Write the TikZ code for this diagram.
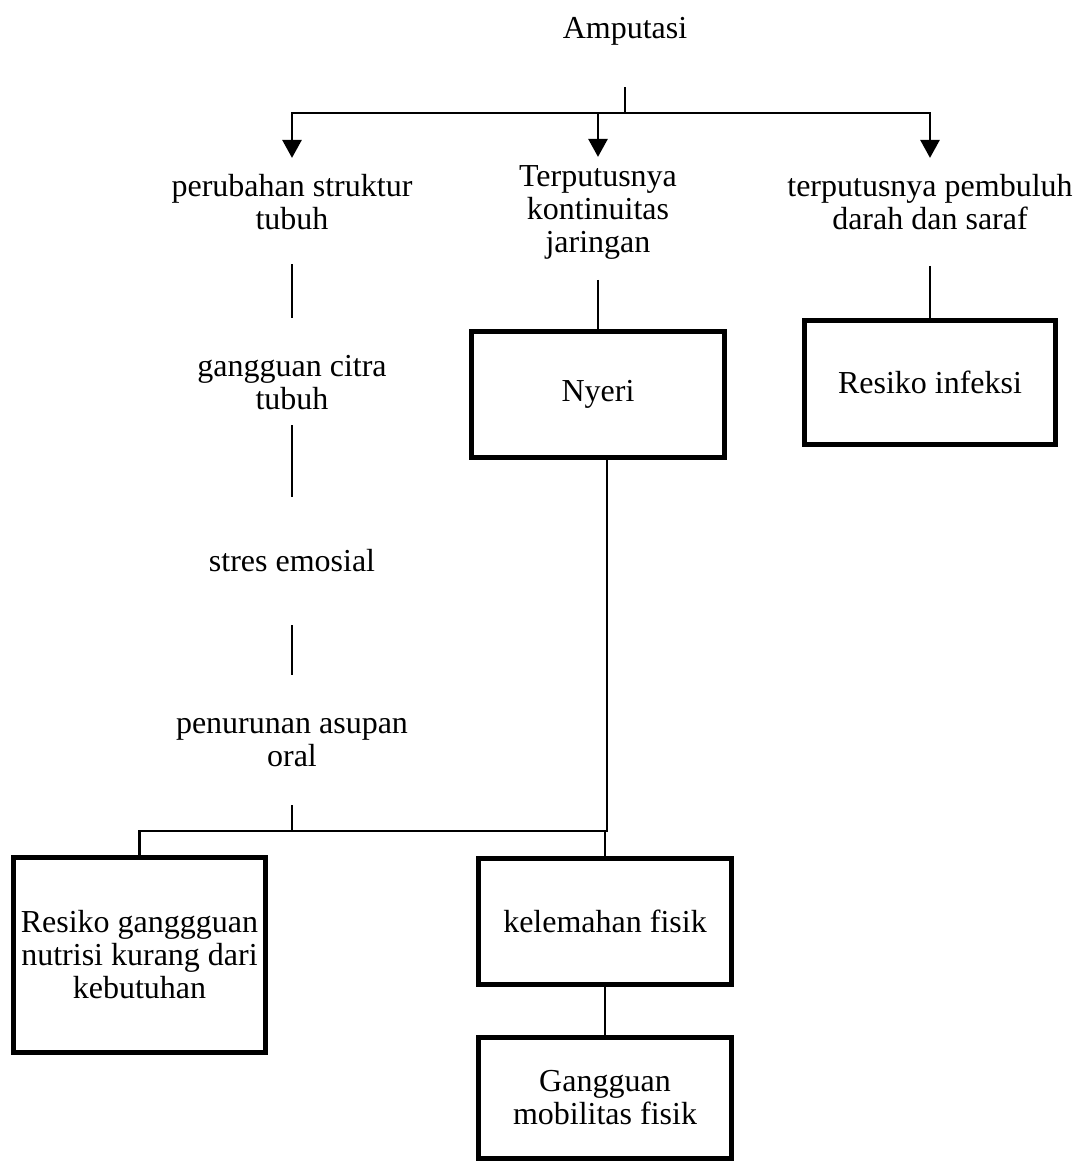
\documentclass[tikz,border=0pt]{standalone}
\usepackage{fontspec}
\setmainfont{Liberation Serif}
\usetikzlibrary{arrows.meta}
\begin{document}
\begin{tikzpicture}[x=1pt,y=-1pt,
  txt/.style={inner sep=0pt,outer sep=0pt,align=center,anchor=north,font=\fontsize{32}{33}\selectfont},
  boxnode/.style={draw,line width=5.5pt,inner sep=0pt,outer sep=0pt,align=center,font=\fontsize{32}{33}\selectfont},
  conn/.style={line width=2.8pt},
  conn2/.style={line width=2.4pt},
  conn1/.style={line width=1.6pt},
  arr/.style={line width=2.8pt,-{Triangle[width=19pt,length=18pt]}}
]
\useasboundingbox (0,0) rectangle (1082,1162);
% text nodes
\node[txt] (amp) at (625,15) {\strut Amputasi};
\node[txt] (per) at (292,172.9) {\strut perubahan struktur\\tubuh\strut};
\node[txt] (ter) at (598,162.9) {\strut Terputusnya\\kontinuitas\\jaringan\strut};
\node[txt] (pem) at (930,172.9) {\strut terputusnya pembuluh\\darah dan saraf\strut};
\node[txt] (gct) at (292,352.9) {\strut gangguan citra\\tubuh\strut};
\node[txt] (str) at (292,547.9) {\strut stres emosial\strut};
\node[txt] (pen) at (292,709.9) {\strut penurunan asupan\\oral\strut};
% boxes
\node[boxnode,minimum width=253pt,minimum height=126pt] (nye) at (598,394.5) {Nyeri};
\node[boxnode,minimum width=251pt,minimum height=124pt] (inf) at (930,382.5) {Resiko infeksi};
\node[boxnode,minimum width=252pt,minimum height=195pt] (nut) at (139.5,955) {Resiko ganggguan\\nutrisi kurang dari\\kebutuhan};
\node[boxnode,minimum width=253pt,minimum height=126pt] (kel) at (605,921.5) {kelemahan fisik};
\node[boxnode,minimum width=253pt,minimum height=121pt] (gan) at (605,1098) {Gangguan\\mobilitas fisik};
% coordinates
\coordinate (top) at (625,87);
\coordinate (jn) at (625,113);
\coordinate (jN) at (607,831);
\coordinate (jP) at (292,831);
% top connectors
\draw[conn] (top) -- (jn);
\draw[arr,shorten >=15pt] (jn) -| (per.north);
\draw[arr,shorten >=6pt] (jn) -| (ter.north);
\draw[arr,shorten >=15pt] (jn) -| (pem.north);
% left column
\draw[conn2,shorten <=25.1pt,shorten >=34.9pt] (per.south) -- (gct.north);
\draw[conn2,shorten <=6.1pt,shorten >=50.9pt] (gct.south) -- (str.north);
\draw[conn2,shorten <=44.1pt,shorten >=34.9pt] (str.south) -- (pen.north);
\draw[conn2,shorten <=29.1pt] (pen.south) -- (jP);
\draw[conn2] (jP) -| (nut.north);
% middle and right
\draw[conn2,shorten <=18pt] (ter.south) -- (nye.north);
\draw[conn2,shorten <=27pt] (pem.south) -- (inf.north);
\draw[conn1] (nye.south -| jN) -- (jN) -- (jP);
\draw[conn2] (kel.north |- jN) -- (kel.north);
\draw[conn2] (kel.south) -- (gan.north);
\end{tikzpicture}
\end{document}
